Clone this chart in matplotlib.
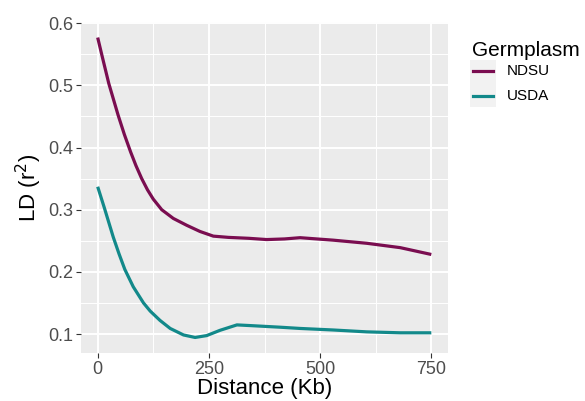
import matplotlib
matplotlib.use("Agg")
from matplotlib import pyplot as plt
from matplotlib.patches import Rectangle
from matplotlib.lines import Line2D

plt.rcParams['font.family'] = ['Liberation Sans', 'DejaVu Sans']

# LD decay curves
ndsu_dist = [0, 9, 25, 46, 60, 74, 86, 99, 112, 125, 144, 170, 200, 230, 260, 294, 340, 380, 420, 455,
             530, 605, 680, 750]
ndsu_ld = [0.577, 0.550, 0.503, 0.452, 0.421, 0.393, 0.371, 0.350, 0.332, 0.317, 0.300, 0.286, 0.275,
           0.265, 0.2575, 0.2555, 0.254, 0.252, 0.253, 0.255, 0.251, 0.246, 0.239, 0.228]

usda_dist = [0, 15, 35, 48, 61, 80, 103, 118, 140, 163, 193, 219, 245, 275, 313, 343, 410, 455, 530,
             605, 680, 750]
usda_ld = [0.337, 0.303, 0.256, 0.229, 0.204, 0.176, 0.150, 0.137, 0.122, 0.109, 0.0985, 0.0945, 0.0975,
           0.106, 0.1147, 0.1136, 0.111, 0.109, 0.1065, 0.1035, 0.102, 0.102]

x_ticks = [0, 250, 500, 750]
y_ticks = [0.1, 0.2, 0.3, 0.4, 0.5, 0.6]

col_ndsu = '#7a0d50'
col_usda = '#12898a'

fig = plt.figure(figsize=(5.85, 4.01), dpi=100)
ax = fig.add_axes([81/585, 1-353/401, (448-81)/585, (353-22)/401])
ax.set_facecolor('#ebebeb')
for s in ax.spines.values():
    s.set_visible(False)

ax.set_xlim(-37.5, 787.5)
ax.set_ylim(0.0695, 0.602)
ax.set_xticks(x_ticks)
ax.set_yticks(y_ticks)
ax.set_xticks([125, 375, 625], minor=True)
ax.set_yticks([0.15, 0.25, 0.35, 0.45, 0.55], minor=True)
ax.grid(True, which='major', color='white', linewidth=1.4)
ax.grid(True, which='minor', color='white', linewidth=0.7)
ax.set_axisbelow(True)
ax.tick_params(which='major', direction='out', length=3.5, width=0.8, color='#333333',
               labelsize=13, labelcolor='#4d4d4d', pad=2)
ax.tick_params(which='minor', length=0)

ax.plot(ndsu_dist, ndsu_ld, color=col_ndsu, linewidth=2.3, solid_capstyle='butt', solid_joinstyle='round')
ax.plot(usda_dist, usda_ld, color=col_usda, linewidth=2.3, solid_capstyle='butt', solid_joinstyle='round')

ax.set_xlabel('Distance (Kb)', fontsize=16, labelpad=0)
ax.set_ylabel('LD (r$^2$)', fontsize=16, labelpad=3)

# legend
fig.text(472/585, 1-50/401, 'Germplasm', fontsize=15, va='center', ha='left')
fig.patches.append(Rectangle((470/585, 1-107/401), 26/585, 47/401, transform=fig.transFigure,
                             facecolor='#f2f2f2', edgecolor='none'))
for yy, c, lab in [(71, col_ndsu, 'NDSU'), (96, col_usda, 'USDA')]:
    fig.lines.append(Line2D([473/585, 493/585], [1-yy/401, 1-yy/401], transform=fig.transFigure,
                            color=c, linewidth=2.3))
    fig.text(507/585, 1-yy/401, lab, fontsize=11, va='center', ha='left')

plt.savefig('out.png', dpi=100)
